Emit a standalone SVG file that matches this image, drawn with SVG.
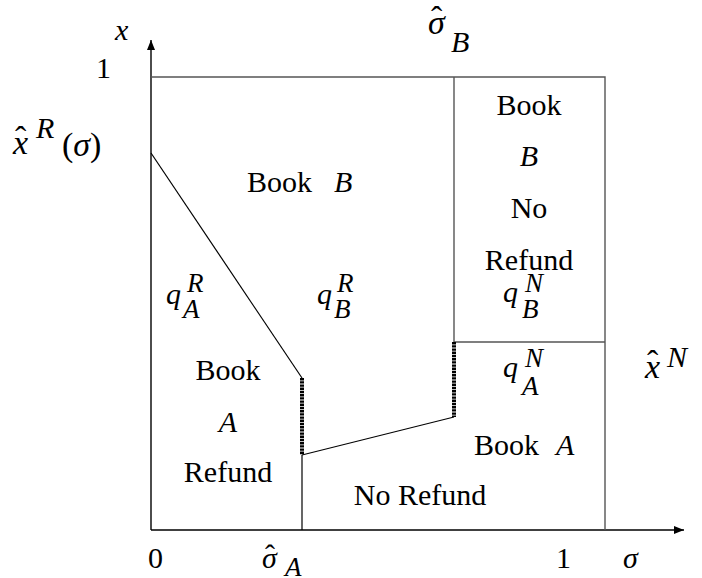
<svg xmlns="http://www.w3.org/2000/svg" width="702" height="578" viewBox="0 0 702 578">
<defs>
<style>
text{font-family:"Liberation Serif","Times New Roman","DejaVu Serif",serif;font-size:30px;fill:#000}
.m{font-style:italic}
.s{font-size:27px}
.b{font-size:34px}
.box{fill:none;stroke:#555;stroke-width:1.4}
.ax{fill:none;stroke:#000;stroke-width:1.4}
.dot{fill:none;stroke:#000;stroke-width:4;stroke-dasharray:2.4 0.8}
.thin{fill:none;stroke:#000;stroke-width:1.2}
</style>
<marker id="arr" viewBox="0 0 10 10" refX="10" refY="5" markerWidth="10" markerHeight="10" markerUnits="userSpaceOnUse" orient="auto">
<path d="M0,1 L10,5 L0,9 Z" fill="#000"/>
</marker>
</defs>
<g id="connectors">
<line class="ax" x1="151" y1="530" x2="151" y2="40" marker-end="url(#arr)"/>
<line class="ax" x1="151" y1="530" x2="684" y2="530" marker-end="url(#arr)"/>
<polyline class="box" points="151,77 605,77 605,530"/>
<line class="box" x1="454" y1="77" x2="454" y2="342"/>
<line class="box" x1="454" y1="342" x2="605" y2="342"/>
<line class="thin" x1="151" y1="153" x2="302" y2="378"/>
<line class="dot" x1="302" y1="378" x2="302" y2="455"/>
<line class="thin" x1="302" y1="455" x2="454" y2="417"/>
<line class="dot" x1="454" y1="342" x2="454" y2="417"/>
<line class="thin" x1="302" y1="455" x2="302" y2="530"/>
</g>
<g id="axis-labels">
<text class="m" x="115" y="40">x</text>
<text x="96" y="78">1</text>
<text class="m b" x="13" y="154">x</text>
<text class="b" x="15" y="150">ˆ</text>
<text class="m" x="36" y="138">R</text>
<text class="b" x="62" y="156">(<tspan class="m">σ</tspan>)</text>
<text class="m b" x="428" y="34">σ</text>
<text class="b" x="431" y="30">ˆ</text>
<text class="m" x="451" y="52">B</text>
<text x="148" y="568">0</text>
<text class="m" x="262" y="568">σ</text>
<text x="265" y="565">ˆ</text>
<text class="m s" x="285" y="576">A</text>
<text x="556" y="568">1</text>
<text class="m" x="623" y="568">σ</text>
<text class="m b" x="645" y="378">x</text>
<text class="b" x="647" y="374">ˆ</text>
<text class="m" x="667" y="367">N</text>
</g>
<g id="region-bookB-refund">
<text x="247" y="192">Book</text>
<text class="m" x="334" y="192">B</text>
<text class="m" x="317" y="304">q</text>
<text class="m s" x="337" y="292">R</text>
<text class="m s" x="334" y="318">B</text>
</g>
<g id="region-bookA-refund">
<text class="m" x="166" y="304">q</text>
<text class="m s" x="187" y="292">R</text>
<text class="m s" x="183" y="318">A</text>
<text x="228" y="380" text-anchor="middle">Book</text>
<text class="m" x="228" y="432" text-anchor="middle">A</text>
<text x="228" y="482" text-anchor="middle">Refund</text>
</g>
<g id="region-bookB-norefund">
<text x="529" y="115" text-anchor="middle">Book</text>
<text class="m" x="529" y="166" text-anchor="middle">B</text>
<text x="529" y="218" text-anchor="middle">No</text>
<text x="529" y="270" text-anchor="middle">Refund</text>
<text class="m" x="503" y="302">q</text>
<text class="m s" x="525" y="292">N</text>
<text class="m s" x="522" y="318">B</text>
</g>
<g id="region-bookA-norefund">
<text class="m" x="503" y="377">q</text>
<text class="m s" x="525" y="367">N</text>
<text class="m s" x="522" y="395">A</text>
<text x="474" y="455">Book</text>
<text class="m" x="556" y="455">A</text>
<text x="420" y="505" text-anchor="middle" font-size="28">No Refund</text>
</g>
</svg>
